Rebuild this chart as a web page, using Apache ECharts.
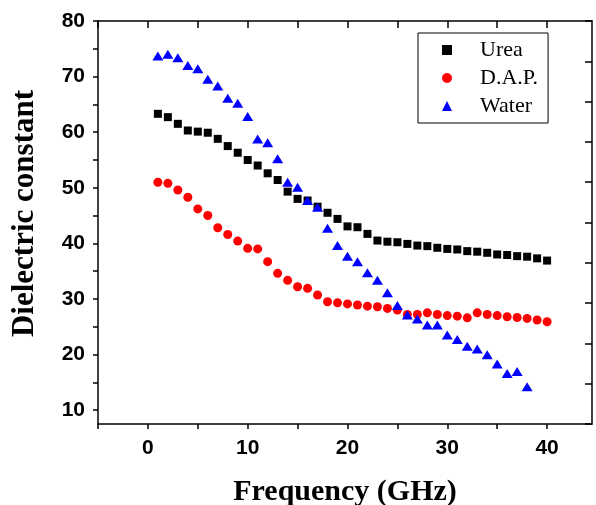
<!DOCTYPE html>
<html>
<head>
<meta charset="utf-8">
<script src="https://cdn.jsdelivr.net/npm/echarts@6/dist/echarts.min.js"></script>
<style>html,body{margin:0;padding:0;background:#fff}#c{width:596px;height:505px}</style>
</head>
<body>
<div id="c"></div>
<script>
const freqUrea = Array.from({length: 40}, (_, i) => i + 1);
const freqDAP = Array.from({length: 40}, (_, i) => i + 1);
const freqWater = Array.from({length: 38}, (_, i) => i + 1);
const urea = [63.3, 62.7, 61.5, 60.3, 60.1, 59.9, 58.8, 57.5, 56.3, 55.0, 54.0, 52.6, 51.4, 49.3, 48.0, 47.7, 46.6, 45.5, 44.4, 43.05, 42.9, 41.7, 40.5, 40.3, 40.2, 39.9, 39.6, 39.5, 39.2, 39.0, 38.9, 38.6, 38.5, 38.3, 38.0, 37.9, 37.7, 37.6, 37.3, 36.9];
const dap = [51.0, 50.8, 49.6, 48.3, 46.2, 45.0, 42.8, 41.6, 40.4, 39.1, 39.0, 36.7, 34.6, 33.35, 32.2, 31.9, 30.7, 29.5, 29.3, 29.1, 28.9, 28.7, 28.6, 28.3, 28.0, 27.2, 27.2, 27.5, 27.2, 27.0, 26.9, 26.6, 27.5, 27.2, 27.0, 26.8, 26.65, 26.5, 26.2, 25.9];
const water = [73.7, 74.0, 73.4, 72.0, 71.4, 69.5, 68.3, 66.1, 65.2, 62.8, 58.75, 58.1, 55.2, 51.0, 50.1, 47.7, 46.5, 42.7, 39.6, 37.7, 36.7, 34.7, 33.35, 31.1, 28.8, 27.1, 26.4, 25.3, 25.3, 23.5, 22.7, 21.5, 21.0, 19.95, 18.3, 16.6, 16.95, 14.2];
const xTickLabels = [0, 10, 20, 30, 40];
const xTicks = [-5, 0, 5, 10, 15, 20, 25, 30, 35, 40];
const yTickLabels = [10, 20, 30, 40, 50, 60, 70, 80];
const yTicks = [10, 15, 20, 25, 30, 35, 40, 45, 50, 55, 60, 65, 70, 75, 80];
const seriesNames = ['Urea', 'D.A.P.', 'Water'];

const pair = (xs, ys) => xs.map((x, i) => [x, ys[i]]);
const axisLine = {show: true, onZero: false, lineStyle: {color: '#000', width: 1.5}};
const labelFont = {color: '#000', fontFamily: 'Liberation Sans', fontWeight: 'bold', fontSize: 21};
const nameFont = {color: '#000', fontFamily: 'Liberation Serif', fontWeight: 'bold', fontSize: 30};

const chart = echarts.init(document.getElementById('c'), null, {renderer: 'canvas'});
chart.setOption({
  animation: false,
  backgroundColor: '#fff',
  grid: {left: 98, right: 4, top: 21, bottom: 81, containLabel: false, outerBoundsMode: 'none'},
  legend: {
    orient: 'vertical', left: 418, top: 33,
    padding: [6, 10, 6, 24],
    borderColor: '#000', borderWidth: 1,
    itemWidth: 10, itemHeight: 10, itemGap: 6,
    textStyle: {color: '#000', fontFamily: 'Liberation Serif', fontSize: 22, lineHeight: 22, padding: [0, 0, 0, 23]},
    data: [{name: seriesNames[0], icon: 'rect'}, {name: seriesNames[1], icon: 'circle'}, {name: seriesNames[2], icon: 'triangle'}]
  },
  xAxis: [
    {type: 'value', position: 'bottom', min: -5, max: 44.5,
     name: 'Frequency (GHz)', nameLocation: 'middle', nameGap: 53, nameTextStyle: nameFont,
     axisLine, splitLine: {show: false},
     axisTick: {show: true, inside: false, length: 5, lineStyle: {color: '#000', width: 1.5}, customValues: xTicks},
     axisLabel: {show: true, margin: 14, customValues: xTickLabels, ...labelFont}},
    {type: 'value', position: 'top', min: -5, max: 44.5,
     axisLine, splitLine: {show: false},
     axisTick: {show: true, inside: true, length: 7, lineStyle: {color: '#000', width: 1.5}, customValues: xTicks},
     axisLabel: {show: false}}
  ],
  yAxis: [
    {type: 'value', position: 'left', min: 7.5, max: 80,
     name: 'Dielectric constant', nameLocation: 'middle', nameGap: 58, nameRotate: 90,
     nameTextStyle: {...nameFont, fontSize: 31, padding: [0, 0, 0, 18]},
     axisLine, splitLine: {show: false},
     axisTick: {show: true, inside: false, length: 5, lineStyle: {color: '#000', width: 1.5}, customValues: yTicks},
     axisLabel: {show: true, margin: 13, customValues: yTickLabels, ...labelFont}},
    {type: 'value', position: 'right', min: 0, max: 10, interval: 1,
     axisLine, splitLine: {show: false},
     axisTick: {show: true, inside: true, length: 7, lineStyle: {color: '#000', width: 1.5}},
     axisLabel: {show: false}}
  ],
  series: [
    {name: seriesNames[0], type: 'scatter', symbol: 'rect', symbolSize: 8, itemStyle: {color: '#000', opacity: 1}, data: pair(freqUrea, urea), z: 3},
    {name: seriesNames[1], type: 'scatter', symbol: 'circle', symbolSize: 9, itemStyle: {color: '#ff0000', opacity: 1}, data: pair(freqDAP, dap), z: 2},
    {name: seriesNames[2], type: 'scatter', symbol: 'triangle', symbolSize: [11, 9], itemStyle: {color: '#0000ff', opacity: 1}, data: pair(freqWater, water), z: 4}
  ]
});
</script>
</body>
</html>
